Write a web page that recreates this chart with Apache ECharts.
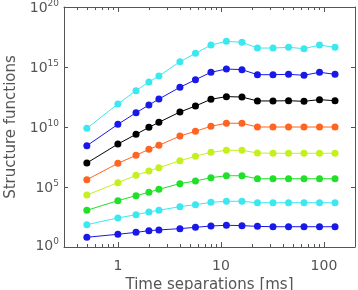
<!DOCTYPE html>
<html>
<head>
<meta charset="utf-8">
<script src="https://cdn.jsdelivr.net/npm/echarts@6/dist/echarts.min.js"></script>
<style>
html, body { margin: 0; padding: 0; background: #fff; }
#chart { width: 358px; height: 290px; }
</style>
</head>
<body>
<div id="chart"></div>
<script>
// time separations (ms)
var tau = [0.5, 1, 1.5, 2, 2.5, 4, 5.66, 8, 11.3, 16, 22.6, 32, 45.3, 64, 90.5, 128];

// structure functions, log10 of value, top curve first
var sf1 = [9.89, 11.92, 13.03, 13.75, 14.25, 15.44, 16.14, 16.83, 17.14, 17.06, 16.58, 16.58, 16.64, 16.53, 16.83, 16.64];
var sf2 = [8.44, 10.22, 11.19, 11.83, 12.33, 13.31, 13.94, 14.56, 14.83, 14.78, 14.36, 14.36, 14.39, 14.31, 14.56, 14.39];
var sf3 = [7.00, 8.58, 9.39, 9.97, 10.39, 11.25, 11.75, 12.31, 12.53, 12.50, 12.17, 12.17, 12.19, 12.14, 12.28, 12.19];
var sf4 = [5.61, 6.97, 7.64, 8.14, 8.47, 9.25, 9.64, 10.06, 10.31, 10.31, 10.00, 10.00, 10.00, 10.00, 10.00, 10.00];
var sf5 = [4.33, 5.36, 5.97, 6.33, 6.61, 7.19, 7.56, 7.89, 8.06, 8.06, 7.83, 7.81, 7.81, 7.81, 7.81, 7.81];
var sf6 = [3.06, 3.86, 4.28, 4.56, 4.81, 5.28, 5.50, 5.78, 5.94, 5.94, 5.69, 5.69, 5.69, 5.69, 5.69, 5.69];
var sf7 = [1.86, 2.42, 2.69, 2.92, 3.06, 3.36, 3.53, 3.72, 3.81, 3.81, 3.69, 3.69, 3.69, 3.69, 3.69, 3.69];
var sf8 = [0.81, 1.06, 1.22, 1.36, 1.42, 1.53, 1.64, 1.75, 1.81, 1.78, 1.72, 1.69, 1.69, 1.69, 1.69, 1.69];
var colors = ['#3ce8f0', '#1818e8', '#000000', '#ff6420', '#c4f020', '#20e028', '#3ce8f0', '#1818e8'];

// axis ticks
var xMin = 0.3, xMax = 200;
var xMajor = [1, 10, 100];
var xMinor = [0.4, 0.5, 0.6, 0.7, 0.8, 0.9, 2, 3, 4, 5, 6, 7, 8, 9, 20, 30, 40, 50, 60, 70, 80, 90];
var yLabels = [0, 5, 10, 15, 20];
var yTicks = [5, 10, 15];
</script>
<script>
(function() {
	var myChart = echarts.init(document.getElementById('chart'));
	var font = 'DejaVu Sans';
	var gray = '#555555';
	var lg = function(v) { return Math.log10(v); };
	var gridBox = { left : 64, top : 7, right : 3, bottom : 43, containLabel : false, outerBoundsMode : 'none' };
	var line = { show : true, onZero : false, lineStyle : { color : gray, width : 1 } };

	var allSf = [sf1, sf2, sf3, sf4, sf5, sf6, sf7, sf8];
	var series = [];
	for (var i = 0; i < allSf.length; i++) {
		var pts = [];
		for (var j = 0; j < tau.length; j++) {
			pts.push([lg(tau[j]), allSf[i][j]]);
		}
		series.push({
			type : 'line',
			xAxisIndex : 0,
			yAxisIndex : 0,
			data : pts,
			symbol : 'circle',
			symbolSize : 7,
			itemStyle : { color : colors[i] },
			lineStyle : { color : colors[i], width : 1 },
			silent : true,
			animation : false
		});
	}

	function xAxis(grid, pos, vals, len, showLine, withLabels) {
		return {
			type : 'value',
			gridIndex : grid,
			position : pos,
			min : lg(xMin),
			max : lg(xMax),
			splitLine : { show : false },
			axisLine : showLine ? line : { show : false },
			axisTick : { show : true, inside : true, length : len, customValues : vals.map(lg),
				lineStyle : { color : gray, width : 1 } },
			axisLabel : withLabels ? {
				show : true, customValues : xMajor.map(lg), margin : 12,
				fontFamily : font, fontSize : 14, color : gray,
				formatter : function(v) { return String(Math.round(Math.pow(10, v))); }
			} : { show : false },
			name : withLabels ? 'Time separations [ms]' : '',
			nameLocation : 'middle',
			nameGap : 30,
			nameTextStyle : { fontFamily : font, fontSize : 15, color : gray }
		};
	}

	function yRich(pt, pb) {
		return {
			b : { fontFamily : font, fontSize : 14, color : gray, verticalAlign : 'bottom', lineHeight : 16, padding : [pt, 0, pb, 0] },
			s : { fontFamily : font, fontSize : 9, color : gray, verticalAlign : 'bottom', lineHeight : 16, padding : [pt, 0, pb + 7, 0] }
		};
	}
	var rich = {};
	var r0 = yRich(6, 0), rT = yRich(18, 0), rB = yRich(0, 2);
	rich.b = r0.b; rich.s = r0.s;
	rich.bt = rT.b; rich.st = rT.s;
	rich.bb = rB.b; rich.sb = rB.s;

	var option = {
		backgroundColor : '#ffffff',
		animation : false,
		grid : [ gridBox, gridBox ],
		xAxis : [
			xAxis(0, 'bottom', xMajor, 5, true, true),
			xAxis(0, 'top', xMajor, 5, true, false),
			xAxis(1, 'bottom', xMinor, 3, false, false),
			xAxis(1, 'top', xMinor, 3, false, false)
		],
		yAxis : [ {
			type : 'value',
			gridIndex : 0,
			position : 'left',
			min : 0,
			max : 20,
			splitLine : { show : false },
			axisLine : line,
			axisTick : { show : true, inside : true, length : 4, customValues : yTicks,
				lineStyle : { color : gray } },
			axisLabel : {
				customValues : yLabels,
				margin : 5,
				formatter : function(v) {
					var k = v === 20 ? 't' : (v === 0 ? 'b' : '');
					return '{b' + k + '|10}{s' + k + '|' + v + '}';
				},
				rich : rich
			},
			name : 'Structure functions',
			nameLocation : 'middle',
			nameGap : 44,
			nameTextStyle : { fontFamily : font, fontSize : 15, color : gray }
		}, {
			type : 'value',
			gridIndex : 0,
			position : 'right',
			min : 0,
			max : 20,
			splitLine : { show : false },
			axisLine : line,
			axisTick : { show : true, inside : true, length : 4, customValues : yTicks,
				lineStyle : { color : gray } },
			axisLabel : { show : false }
		}, {
			type : 'value',
			gridIndex : 1,
			min : 0,
			max : 20,
			show : false
		} ],
		series : series
	};
	myChart.setOption(option);
})();
</script>
</body>
</html>
